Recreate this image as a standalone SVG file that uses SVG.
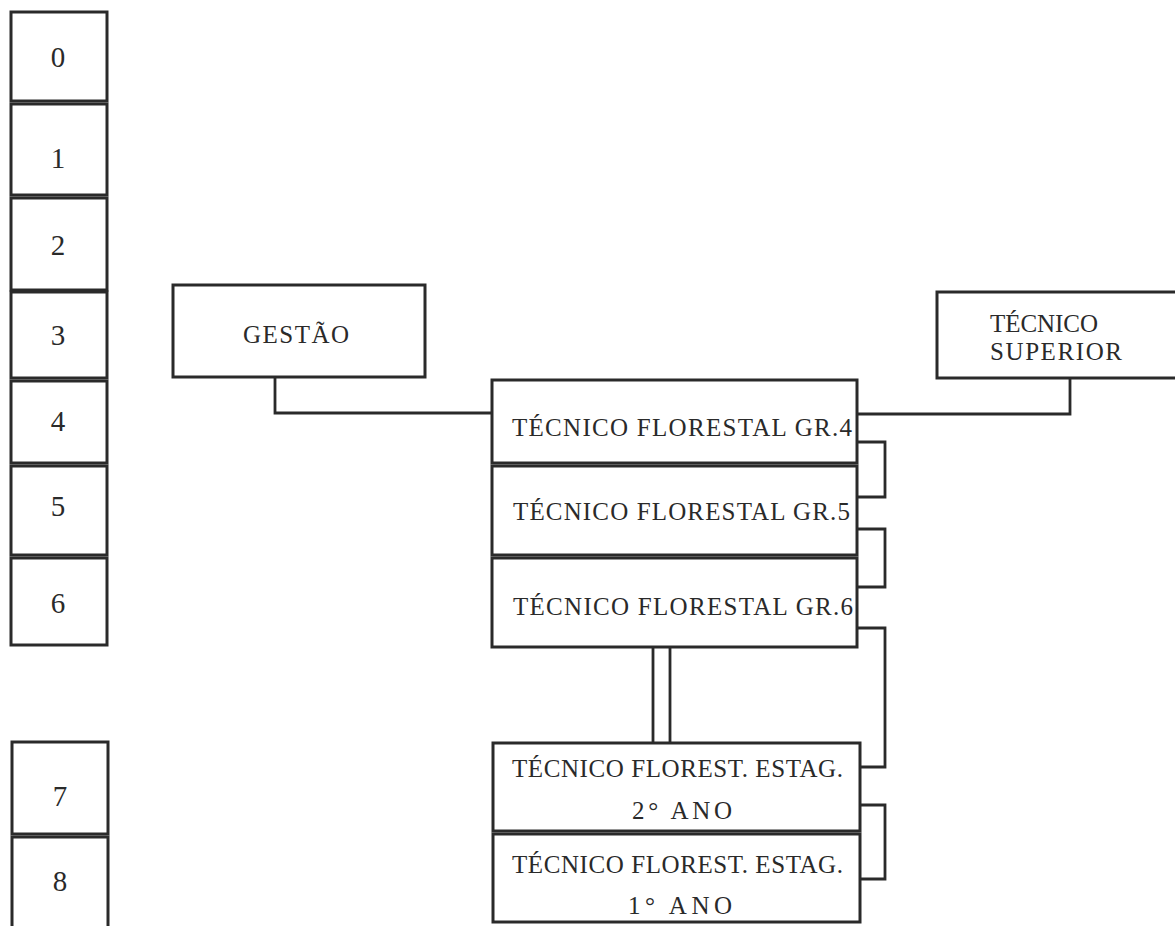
<svg xmlns="http://www.w3.org/2000/svg" width="1175" height="926" viewBox="0 0 1175 926">
<style>
.box{fill:#fff;stroke:#2a2a2a;stroke-width:3}
.con{fill:none;stroke:#2a2a2a;stroke-width:2.8}
.num{font-family:"Liberation Serif",serif;font-size:29px;fill:#2a2a2a;text-anchor:middle}
.lbl{font-family:"Liberation Serif",serif;font-size:25px;fill:#2a2a2a}
</style>
<rect width="1175" height="926" fill="#fff"/>
<g id="levels">
<g id="lvl0"><rect class="box" x="11" y="12" width="96" height="89"/><text class="num" x="58" y="67">0</text></g>
<g id="lvl1"><rect class="box" x="11" y="104" width="96" height="91"/><text class="num" x="58" y="168">1</text></g>
<g id="lvl2"><rect class="box" x="11" y="198" width="96" height="92"/><text class="num" x="58" y="255">2</text></g>
<g id="lvl3"><rect class="box" x="11" y="292" width="96" height="86"/><text class="num" x="58" y="345">3</text></g>
<g id="lvl4"><rect class="box" x="11" y="381" width="96" height="82"/><text class="num" x="58" y="431">4</text></g>
<g id="lvl5"><rect class="box" x="11" y="466" width="96" height="89"/><text class="num" x="58" y="516">5</text></g>
<g id="lvl6"><rect class="box" x="11" y="558" width="96" height="87"/><text class="num" x="58" y="613">6</text></g>
<g id="lvl7"><rect class="box" x="12" y="742" width="96" height="92"/><text class="num" x="60" y="806">7</text></g>
<g id="lvl8"><rect class="box" x="12" y="837" width="96" height="100"/><text class="num" x="60" y="891">8</text></g>
</g>
<g id="connectors">
<polyline class="con" points="275,377 275,413 492,413"/>
<polyline class="con" points="1070,378 1070,414 857,414"/>
<polyline class="con" points="857,442 885,442 885,497 857,497"/>
<polyline class="con" points="857,529 885,529 885,587 857,587"/>
<polyline class="con" points="857,628 885,628 885,767 860,767"/>
<polyline class="con" points="860,805 885,805 885,879 860,879"/>
<line class="con" x1="653" y1="647" x2="653" y2="743"/>
<line class="con" x1="670" y1="647" x2="670" y2="743"/>
</g>
<g id="gestao"><rect class="box" x="173" y="285" width="252" height="92"/><text class="lbl" x="296" y="343" text-anchor="middle" textLength="106" lengthAdjust="spacing">GESTÃO</text></g>
<g id="tecnico-superior"><rect class="box" x="937" y="292" width="250" height="86"/><text class="lbl" x="990" y="332" textLength="108" lengthAdjust="spacing">TÉCNICO</text><text class="lbl" x="990" y="360" textLength="132" lengthAdjust="spacing">SUPERIOR</text></g>
<g id="tf-gr4"><rect class="box" x="492" y="380" width="365" height="83"/><text class="lbl" x="512" y="436" textLength="340" lengthAdjust="spacing">TÉCNICO FLORESTAL GR.4</text></g>
<g id="tf-gr5"><rect class="box" x="492" y="466" width="365" height="89"/><text class="lbl" x="513" y="520" textLength="337" lengthAdjust="spacing">TÉCNICO FLORESTAL GR.5</text></g>
<g id="tf-gr6"><rect class="box" x="492" y="558" width="365" height="89"/><text class="lbl" x="513" y="615" textLength="340" lengthAdjust="spacing">TÉCNICO FLORESTAL GR.6</text></g>
<g id="tf-estag2"><rect class="box" x="493" y="743" width="367" height="88"/><text class="lbl" x="512" y="777" textLength="331" lengthAdjust="spacing">TÉCNICO FLOREST. ESTAG.</text><text class="lbl" x="632" y="819" textLength="100" lengthAdjust="spacing">2°  ANO</text></g>
<g id="tf-estag1"><rect class="box" x="493" y="834" width="367" height="88"/><text class="lbl" x="512" y="873" textLength="331" lengthAdjust="spacing">TÉCNICO FLOREST. ESTAG.</text><text class="lbl" x="628" y="914" textLength="104" lengthAdjust="spacing">1°  ANO</text></g>
</svg>
